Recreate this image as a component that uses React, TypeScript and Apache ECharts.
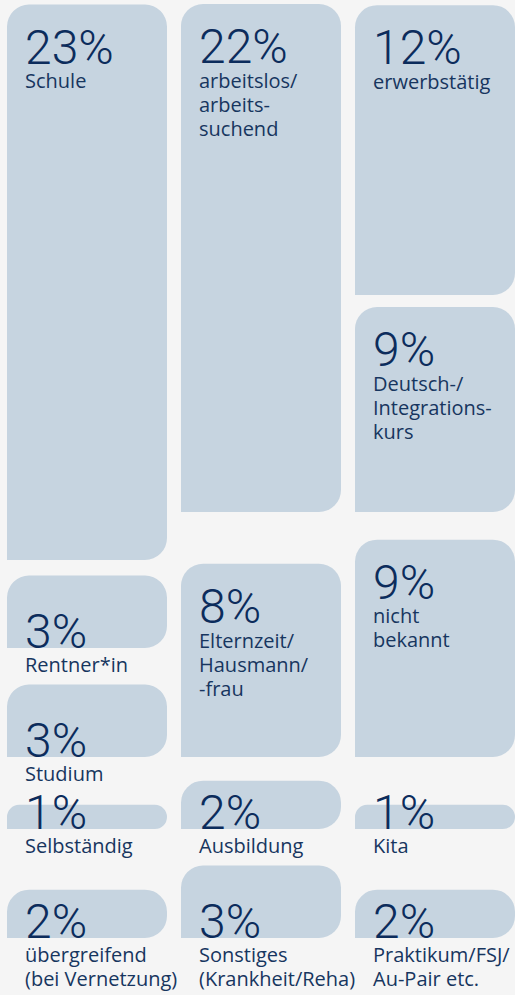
import React, { useEffect, useRef } from "react";
import * as echarts from "echarts";

// ---- data ----
const categories = [
  "Schule",
  "arbeitslos/\narbeits-\nsuchend",
  "erwerbstätig",
  "Deutsch-/\nIntegrations-\nkurs",
  "Rentner*in",
  "Studium",
  "Elternzeit/\nHausmann/\n-frau",
  "nicht\nbekannt",
  "Selbständig",
  "Ausbildung",
  "Kita",
  "übergreifend\n(bei Vernetzung)",
  "Sonstiges\n(Krankheit/Reha)",
  "Praktikum/FSJ/\nAu-Pair etc.",
];
const values = [23, 22, 12, 9, 3, 3, 8, 9, 1, 2, 1, 2, 3, 2];

// ---- layout (column, slot bottom, slot top limit in layout units) ----
const columns = [0, 1, 2, 2, 0, 0, 1, 2, 0, 1, 2, 0, 1, 2];
const slotBottom = [560, 512, 295, 512, 648, 757, 757, 757, 829, 829, 829, 938, 938, 938];
const slotTop = [4, 4, 4, 307, 560, 648, 512, 512, 757, 757, 757, 829, 829, 829];
const UNITS_PER_PCT = 24.15;

const BG = "#f5f5f5";
const TILE = "#c6d4e0";
const NUM_COLOR = "#0c2c5c";
const LABEL_COLOR = "#17365f";

export default function App() {
  const ref = useRef<HTMLDivElement>(null);
  useEffect(() => {
    document.body.style.margin = "0";
    const chart = echarts.init(ref.current!, null, { renderer: "svg" });
    const data = values.map((v, i) => [columns[i], slotBottom[i], slotTop[i], v]);
    chart.setOption({
      animation: false,
      backgroundColor: BG,
      grid: { left: 0, top: 0, right: 0, bottom: 0 },
      xAxis: { type: "value", min: -0.5, max: 515 / 174 - 0.5, show: false },
      yAxis: { type: "value", inverse: true, min: 0, max: 995, show: false },
      series: [
        {
          type: "custom",
          clip: false,
          data,
          renderItem: (params: any, api: any) => {
            const i = params.dataIndex;
            const col = api.value(0);
            const bottom = api.value(1);
            const topLimit = api.value(2);
            const v = api.value(3);
            const pB = api.coord([col, bottom]);
            const pT = api.coord([col, topLimit]);
            const bandW = api.size([1, 0])[0];
            const hFromValue = api.size([0, v * UNITS_PER_PCT])[1];
            const maxH = pB[1] - pT[1];
            const h = Math.min(hFromValue, maxH);
            const w = bandW - 14;
            const x = pB[0] - w / 2;
            const y = pB[1] - h;
            const r = Math.min(22, h / 2);
            let numBase: number;
            let labBase: number;
            if (h > 150) {
              numBase = y + 59;
              labBase = numBase + 25;
            } else {
              numBase = pB[1];
              labBase = pB[1] + 24;
            }
            const tx = x + 18;
            return {
              type: "group",
              children: [
                {
                  type: "rect",
                  shape: { x, y, width: w, height: h, r: [r, r, r, 0] },
                  style: { fill: TILE },
                },
                {
                  type: "text",
                  style: {
                    text: v + "%",
                    x: tx,
                    y: numBase - 16.5,
                    fill: NUM_COLOR,
                    font: "300 48px Roboto",
                    lineHeight: 36,
                    align: "left",
                    verticalAlign: "middle",
                  },
                },
                {
                  type: "text",
                  style: {
                    text: categories[i],
                    x: tx,
                    y: labBase - 7.8 - 12,
                    fill: LABEL_COLOR,
                    font: "20px 'Open Sans'",
                    lineHeight: 24,
                    align: "left",
                    verticalAlign: "top",
                  },
                },
              ],
            };
          },
        },
      ],
    });
    return () => chart.dispose();
  }, []);
  return <div ref={ref} style={{ width: 515, height: 995 }} />;
}
